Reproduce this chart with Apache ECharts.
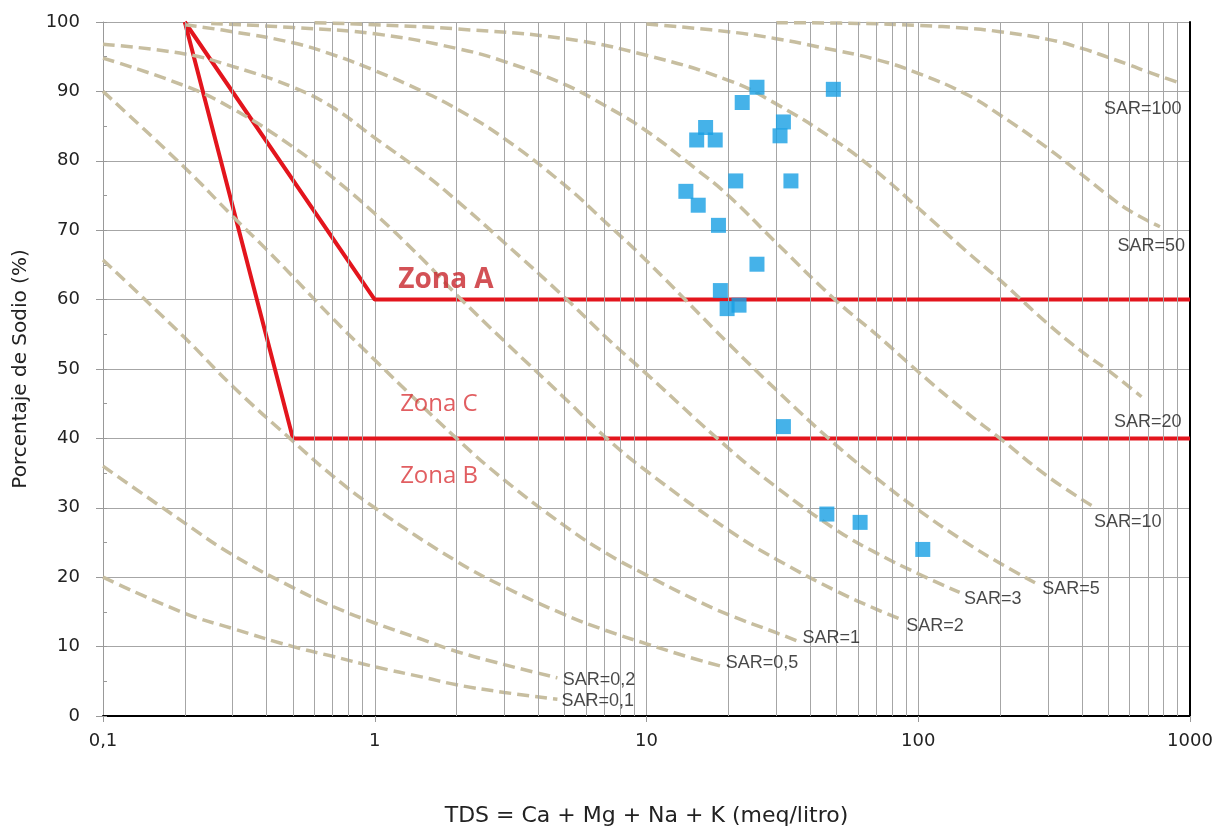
<!DOCTYPE html>
<html><head><meta charset="utf-8">
<script src="https://cdn.jsdelivr.net/npm/echarts@6/dist/echarts.min.js"></script>
<style>html,body{margin:0;padding:0;background:#fff}#chart{width:1219px;height:834px}</style>
</head><body><div id="chart"></div>
<script>
// ---- tick labels ----
const xTickLabels = ['0,1', '1', '10', '100', '1000'];

// ---- zone boundary lines [TDS, %Na] ----
const zoneALine = [[0.2, 100], [1, 60], [1000, 60]];
const zoneBLine = [[0.2, 100], [0.5, 40], [1000, 40]];

// ---- SAR iso-lines [TDS, %Na] ----
const sar01 = [[0.1,20],[0.2,14.8],[0.3,12.6],[0.5,10],[0.7,8.6],[1,7.1],[1.5,5.6],[2,4.5],[3,3.4],[4.7,2.4]];
const sar02 = [[0.1,36],[0.2,27.8],[0.3,23.2],[0.5,18.5],[0.7,15.8],[1,13.4],[1.5,11],[2,9.3],[3,7.4],[4.7,5.5]];
const sar05 = [[0.1,65.7],[0.2,54.5],[0.3,47.5],[0.5,39.6],[0.7,34.6],[1,30],[2,22.3],[3,18.6],[5,14.6],[7,12.4],[10,10.4],[14,8.6],[18.7,7.2]];
const sar1  = [[0.1,90],[0.2,79],[0.3,72],[0.4,67.2],[0.5,63.3],[0.7,57.3],[1,51.3],[2,40],[3,34],[5,27.4],[7,23.6],[10,20.3],[15,16.8],[20,14.6],[30,12],[37,10.6]];
const sar2  = [[0.1,94.8],[0.2,90.8],[0.3,87.5],[0.5,82],[0.7,77.6],[1,72.4],[1.5,65.8],[2,60.7],[3,54],[5,45.8],[7,40.3],[10,35.3],[20,26.8],[30,22.6],[50,18],[70,15.4],[88,13.8]];
const sar3  = [[0.1,96.8],[0.2,95.4],[0.3,93.6],[0.5,90.6],[0.7,87.7],[1,83.3],[1.5,78.3],[2,74.3],[3,68.2],[5,60.3],[7,54.8],[10,49.3],[20,38.6],[30,33],[50,26.8],[70,23.5],[100,20.5],[142,17.8]];
const sar5  = [[0.2,99.6],[0.3,98.6],[0.5,97],[0.7,95.3],[1,93],[1.5,90],[2,87.5],[3,83.2],[5,76.5],[7,71.3],[10,65.6],[20,53.7],[30,47],[50,39],[70,34.3],[100,29.7],[150,25],[200,22],[269,19.2]];
const sar10 = [[0.25,99.8],[0.5,99.2],[1,98.3],[2,96.2],[3,94.3],[5,91],[7,88],[10,84.3],[15,79],[20,75],[30,68.2],[50,59.8],[70,55],[100,49.6],[150,43.8],[200,40],[300,34.5],[440,30.2]];
const sar20 = [[0.6,99.9],[1,99.6],[2,99],[5,97.6],[10,95.2],[20,91.6],[30,88.2],[50,82.8],[70,78.5],[100,73.2],[150,67],[200,62.8],[300,56.5],[400,52.5],[500,49.8],[663,46]];
const sar50 = [[10,99.7],[20,98.6],[30,97.6],[43,96.4],[70,94.6],[100,92.6],[150,89.6],[200,86.6],[300,81.8],[400,78],[500,75],[600,72.8],[775,70.5]];
const sar100 = [[30,99.9],[60,99.8],[100,99.5],[150,99.1],[200,98.6],[300,97.5],[400,96.2],[500,94.9],[600,93.8],[700,92.8],[800,92],[920,91.2]];

// ---- water samples ----
const sampleTDS = [25.5, 22.5, 48.7, 16.5, 15.3, 17.9, 31.9, 31.0, 21.3, 34.0, 13.96, 15.5, 18.4, 25.5, 18.7, 19.8, 21.9, 31.9, 46.1, 61.1, 103.9];
const sampleNa  = [90.6, 88.4, 90.3, 84.8, 83.0, 83.0, 85.6, 83.6, 77.1, 77.1, 75.6, 73.6, 70.7, 65.1, 61.3, 58.7, 59.2, 41.7, 29.1, 27.9, 24.0];

// ---- curve labels ----
const sarLabelText = ['SAR=100','SAR=50','SAR=20','SAR=10','SAR=5','SAR=3','SAR=2','SAR=1','SAR=0,5','SAR=0,2','SAR=0,1'];
const sarLabelX = [930, 958, 930, 786, 466, 240, 147, 61, 36.2, 9.1, 9.0];
const sarLabelY = [87.4, 67.7, 42.4, 28.0, 18.3, 16.8, 13.0, 11.2, 7.6, 5.2, 2.2];

const zoneLabelText = ['Zona A', 'Zona C', 'Zona B'];
const zoneLabelX = [1.22, 1.24, 1.24];
const zoneLabelY = [62.8, 45.0, 34.6];

const sarCurves = [sar01, sar02, sar05, sar1, sar2, sar3, sar5, sar10, sar20, sar50, sar100];

// minor vertical grid positions (2..9 of each decade)
const minorGridX = [];
[0.1, 1, 10, 100].forEach(d => { for (let m = 2; m <= 9; m++) minorGridX.push(+(d * m).toPrecision(3)); });

const GRID = '#a6a6a6';
const FONT = 'Liberation Sans';

const series = [];
series.push({
  type: 'line', data: [], silent: true, z: 1,
  markLine: {
    silent: true, symbol: ['none', 'none'], label: {show: false},
    lineStyle: {color: GRID, width: 1, type: 'solid'},
    data: minorGridX.map(v => ({xAxis: v}))
  }
});
[zoneALine, zoneBLine].forEach(d => series.push({
  type: 'line', data: d, symbol: 'none', z: 3, silent: true,
  lineStyle: {color: '#e3151d', width: 4}
}));
sarCurves.forEach(d => series.push({
  type: 'line', data: d, symbol: 'none', smooth: 0.45, z: 4, silent: true,
  lineStyle: {color: '#c7bea0', width: 3.5, type: [12, 6]}
}));
series.push({
  type: 'scatter', data: sampleTDS.map((t, i) => [t, sampleNa[i]]),
  symbol: 'rect', symbolSize: 15, z: 6,
  itemStyle: {color: '#169fe3'}
});
series.push({
  type: 'scatter', z: 7, silent: true, symbolSize: 1, itemStyle: {color: 'rgba(0,0,0,0)'},
  data: sarLabelText.map((t, i) => ({value: [sarLabelX[i], sarLabelY[i]], name: t})),
  label: {show: true, position: 'inside', align: 'right', verticalAlign: 'middle',
    formatter: p => p.name, fontFamily: FONT, fontSize: 18, color: '#1a1a1a'}
});
series.push({
  type: 'scatter', z: 7, silent: true, symbolSize: 1, itemStyle: {color: 'rgba(0,0,0,0)'},
  data: zoneLabelText.map((t, i) => ({
    value: [zoneLabelX[i], zoneLabelY[i]], name: t,
    label: i === 0 ? {fontWeight: 'bold', fontSize: 28, color: '#c8262c'} : {fontSize: 24, color: '#d9363a'}
  })),
  label: {show: true, position: 'inside', align: 'left', verticalAlign: 'middle',
    formatter: p => p.name, fontFamily: 'Open Sans'}
});

const chart = echarts.init(document.getElementById('chart'), null, {renderer: 'canvas'});
chart.setOption({
  animation: false,
  backgroundColor: '#fff',
  textStyle: {fontFamily: FONT},
  grid: {left: 103, right: 29, top: 22, bottom: 118},
  xAxis: [{
    type: 'log', logBase: 10, min: 0.1, max: 1000,
    name: 'TDS = Ca + Mg + Na + K (meq/litro)', nameLocation: 'middle', nameGap: 89,
    nameTextStyle: {fontFamily: 'DejaVu Sans', fontSize: 22, color: '#222'},
    axisLine: {lineStyle: {color: '#999', width: 1}},
    axisTick: {show: true, length: 6, lineStyle: {color: '#999'}},
    axisLabel: {margin: 16, fontFamily: 'DejaVu Sans', fontSize: 18, color: '#222',
      formatter: v => xTickLabels[Math.round(Math.log10(v)) + 1]},
    splitLine: {show: true, lineStyle: {color: GRID, width: 1}},
    minorTick: {show: false}, minorSplitLine: {show: false}
  }, {
    type: 'log', logBase: 10, min: 0.1, max: 1000, position: 'top',
    axisLine: {lineStyle: {color: '#000', width: 2}},
    axisTick: {show: false}, axisLabel: {show: false}, splitLine: {show: false}
  }],
  yAxis: [{
    type: 'value', min: 0, max: 100, interval: 10,
    name: 'Porcentaje de Sodio (%)', nameLocation: 'middle', nameGap: 72, nameRotate: 90,
    nameTextStyle: {fontFamily: 'DejaVu Sans', fontSize: 20, color: '#222'},
    axisLine: {show: true, lineStyle: {color: '#999', width: 1}},
    axisTick: {show: true, length: 7, lineStyle: {color: '#999'}},
    axisLabel: {margin: 23, fontFamily: 'DejaVu Sans', fontSize: 18, color: '#222'},
    splitLine: {show: true, lineStyle: {color: GRID, width: 1}}
  }, {
    type: 'value', min: 0, max: 100, interval: 5, position: 'left',
    axisLine: {show: false}, axisLabel: {show: false}, splitLine: {show: false},
    axisTick: {show: true, inside: true, length: 4, lineStyle: {color: '#999'}}
  }, {
    type: 'value', min: 0, max: 100, interval: 10, position: 'right',
    axisLine: {show: true, lineStyle: {color: '#000', width: 2}},
    axisTick: {show: false}, axisLabel: {show: false}, splitLine: {show: false}
  }],
  series: series
});
</script>
</body></html>
